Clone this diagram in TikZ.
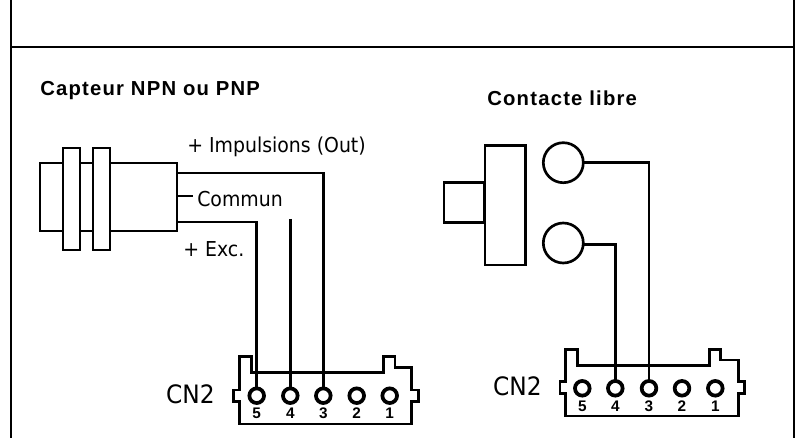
\documentclass[tikz,border=0pt]{standalone}
\usepackage{fontspec}
\setmainfont{DejaVu Sans}[FakeStretch=0.92]
\newfontfamily\boldf{Liberation Sans}[BoldFont=* Bold]
\newfontfamily\titlef{Liberation Sans}[BoldFont=* Bold,LetterSpace=6]
\tikzset{
  x=0.75pt,y=-0.75pt,
  line/.style={line width=2.2pt,line join=miter},
  thin line/.style={line width=2.2pt},
  box/.style={draw,line width=2pt,fill=white,inner sep=0pt,outer sep=0pt},
  pin/.style={circle,draw,line width=2.8pt,fill=white,minimum size=11pt,inner sep=0pt,outer sep=0pt},
  contact/.style={circle,draw,line width=2pt,fill=white,minimum size=30pt,inner sep=0pt,outer sep=0pt},
  lbl/.style={inner sep=0pt,font=\fontsize{15.4pt}{18pt}\selectfont},
  title/.style={inner sep=0pt,font=\titlef\bfseries\fontsize{15.2pt}{18pt}\selectfont},
  cn/.style={inner sep=0pt,font=\fontsize{19pt}{22pt}\selectfont},
  num/.style={inner sep=0pt,font=\boldf\bfseries\fontsize{11.5pt}{13pt}\selectfont},
}
\begin{document}
\begin{tikzpicture}
\useasboundingbox (0,0) rectangle (795,438);
% frame
\coordinate (ftl) at (11,0); \coordinate (fbl) at (11,438);
\coordinate (ftr) at (794.5,0); \coordinate (fbr) at (794.5,438);
\coordinate (hl) at (11,47); \coordinate (hr) at (794.5,47);
\draw[line] (ftl) -- (fbl);
\draw[line] (ftr) -- (fbr);
\draw[line] (hl) -- (hr);
% titles
\node[title,anchor=west] (t1) at (40,91) {Capteur NPN ou PNP};
\node[title,anchor=west] (t2) at (487,98) {Contacte libre};
% sensor
\node[box,minimum width=102.75pt,minimum height=51pt] (body) at (108.5,197) {};
\node[box,minimum width=12.75pt,minimum height=76.5pt] (fl1) at (71.5,199) {};
\node[box,minimum width=12.75pt,minimum height=76.5pt] (fl2) at (101.5,199) {};
% connector 1
\draw[line] (239.3,424) -- (239.3,401.7) -- (233.3,401.7) -- (233.3,390) -- (239.3,390) -- (239.3,356.7) -- (251.7,356.7) -- (251.7,372.7) -- (383.3,372.7) -- (383.3,356.7) -- (395,356.7) -- (395,367.3) -- (411.7,367.3) -- (411.7,390) -- (418.3,390) -- (418.3,401.7) -- (411.7,401.7) -- (411.7,424) -- cycle;
\foreach \n/\x in {5/256.7,4/290.3,3/323.3,2/356.7,1/389.7}{
  \node[pin] (a\n) at (\x,395.7) {};
  \node[num] (al\n) at (\x,413) {\n};
}
\node[cn,anchor=east] (cn1) at (215,394) {CN2};
% connector 2
\draw[line] (565.7,416) -- (565.7,393.3) -- (560,393.3) -- (560,381.7) -- (565.7,381.7) -- (565.7,349.3) -- (577.3,349.3) -- (577.3,365.3) -- (709.3,365.3) -- (709.3,349.3) -- (720.7,349.3) -- (720.7,360) -- (738.3,360) -- (738.3,381.7) -- (744.3,381.7) -- (744.3,393.3) -- (738.3,393.3) -- (738.3,416) -- cycle;
\foreach \n/\x in {5/582.3,4/615.3,3/649,2/682,1/715.3}{
  \node[pin] (b\n) at (\x,388.3) {};
  \node[num] (bl\n) at (\x,406) {\n};
}
\node[cn,anchor=east] (cn2) at (542,386) {CN2};
% sensor wires
\coordinate (sT) at (177,173); \coordinate (sC) at (177,196); \coordinate (sE) at (177,222);
\coordinate (sCe) at (193,196); \coordinate (w4) at (290.3,219);
\draw[thin line] (sT) -| (a3);
\draw[thin line] (sC) -- (sCe);
\draw[thin line] (sE) -| (a5);
\draw[thin line] (w4) -- (a4);
\node[lbl,anchor=west] (l1) at (187,147) {+ Impulsions (Out)};
\node[lbl,anchor=west] (l2) at (197,199) {Commun};
\node[lbl,anchor=west] (l3) at (183,249) {+ Exc.};
% switch
\node[box,minimum width=30pt,minimum height=30pt] (plg) at (464,202.7) {};
\node[box,minimum width=30.5pt,minimum height=89.5pt] (sw) at (505.3,205.3) {};
\node[contact] (k1) at (563.3,162.7) {};
\node[contact] (k2) at (563.3,243) {};
\coordinate (k2e) at (584,244.7);
\draw[thin line] (k1) -| (b3);
\draw[thin line] (k2e) -| (b4);
\end{tikzpicture}
\end{document}
